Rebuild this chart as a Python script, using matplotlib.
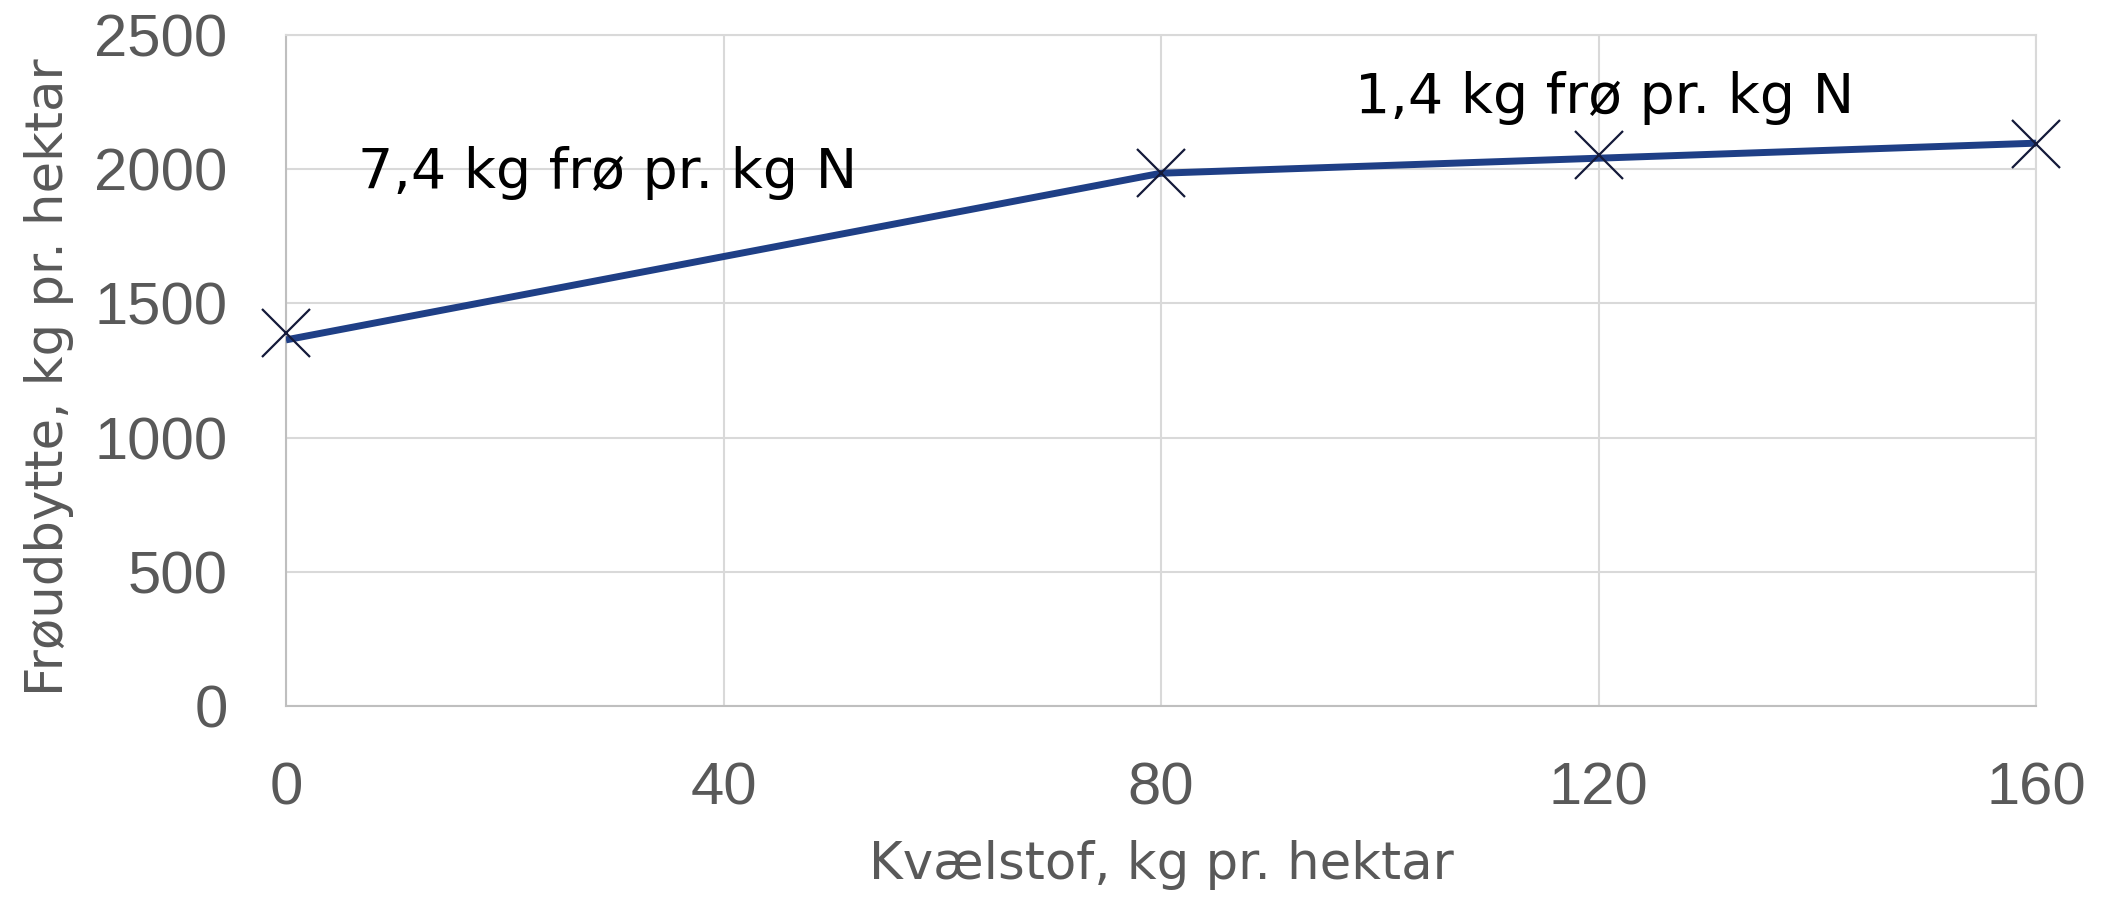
import matplotlib.pyplot as plt

# observed seed yield at each nitrogen level
n_levels = [0, 80, 120, 160]
seed_yield = [1388, 1987, 2053, 2093]

# broken-line response fitted to the observations
fit_n = [0, 80, 160]
fit_yield = [1364, 1985, 2097]

x_ticks = [0, 40, 80, 120, 160]
y_ticks = [0, 500, 1000, 1500, 2000, 2500]

slope_labels = ['7,4 kg frø pr. kg N', '1,4 kg frø pr. kg N']
slope_pos = [(6.6, 1930), (97.7, 2210)]

label_font = ['DejaVu Sans']
grey = '#595959'
grid = '#d9d9d9'

fig = plt.figure(figsize=(21.03, 8.99), dpi=100)
ax = fig.add_axes([286/2103, 1 - 706/899, 1750/2103, 671/899])

ax.plot(fit_n, fit_yield, color='#1f3f86', lw=5, solid_capstyle='butt', zorder=3)
ax.plot(n_levels, seed_yield, ls='none', marker='x', ms=34, mew=1.6,
        color='#141a3a', clip_on=False, zorder=4)

for txt, (px, py) in zip(slope_labels, slope_pos):
    ax.text(px, py, txt, fontsize=40, family=label_font, color='black',
            ha='left', va='baseline')

ax.set_xlim(0, 160)
ax.set_ylim(0, 2500)
ax.set_xticks(x_ticks)
ax.set_yticks(y_ticks)
ax.grid(True, color=grid, lw=1.5)
ax.set_axisbelow(True)
for s in ax.spines.values():
    s.set_color(grid)
    s.set_linewidth(1.5)
ax.spines['left'].set_color('#bfbfbf')
ax.spines['bottom'].set_color('#bfbfbf')
ax.tick_params(length=0, labelsize=43, labelcolor=grey, pad=40)
ax.tick_params(axis='y', pad=42)
for lab in ax.get_xticklabels() + ax.get_yticklabels():
    lab.set_family(['Liberation Sans', 'DejaVu Sans'])

ax.set_xlabel('Kvælstof, kg pr. hektar', fontsize=37, family=label_font,
              color=grey)
ax.set_ylabel('Frøudbytte, kg pr. hektar', fontsize=37, family=label_font,
              color=grey)
ax.xaxis.set_label_coords(0.5, -134/671)
ax.yaxis.set_label_coords(-212/1750, 0.49)

fig.savefig('out.png', dpi=100)
